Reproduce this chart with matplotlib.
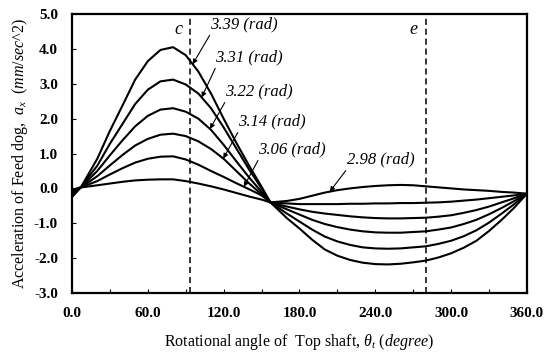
import matplotlib.pyplot as plt
import numpy as np

plt.rcParams['font.family'] = 'Liberation Serif'
plt.rcParams['mathtext.fontset'] = 'custom'
plt.rcParams['mathtext.rm'] = 'Liberation Serif'
plt.rcParams['mathtext.it'] = 'Liberation Serif:italic'

# rotational angle of top shaft (degree)
theta = [0, 7, 10, 20, 30, 40, 50, 60, 70, 80, 90, 100, 110, 120, 130, 140, 150, 157,
         170, 180, 190, 200, 210, 220, 230, 240, 250, 260, 270, 280, 290, 300,
         310, 320, 330, 340, 350, 360]

# feed dog acceleration (mm/sec^2) for each parameter value (rad)
acc_339 = [-0.25, 0.03, 0.22, 0.85, 1.65, 2.38, 3.12, 3.65, 3.97, 4.05, 3.82, 3.35, 2.72,
           2.00, 1.31, 0.66, 0.05, -0.40,
           -0.85, -1.15, -1.47, -1.75, -1.93, -2.05, -2.13, -2.17, -2.18, -2.16, -2.12,
           -2.07, -1.98, -1.86, -1.70, -1.50, -1.22, -0.90, -0.55, -0.15]
acc_331 = [-0.20, 0.03, 0.18, 0.65, 1.28, 1.85, 2.42, 2.83, 3.07, 3.12, 2.98, 2.72, 2.30,
           1.75, 1.15, 0.55, 0.00, -0.40,
           -0.72, -0.95, -1.18, -1.38, -1.52, -1.62, -1.69, -1.72, -1.73, -1.72, -1.69,
           -1.66, -1.59, -1.50, -1.37, -1.20, -0.98, -0.72, -0.45, -0.15]
acc_322 = [-0.16, 0.03, 0.14, 0.50, 0.95, 1.38, 1.78, 2.08, 2.26, 2.30, 2.20, 2.00, 1.68,
           1.25, 0.78, 0.32, -0.10, -0.40,
           -0.60, -0.75, -0.90, -1.02, -1.11, -1.18, -1.23, -1.26, -1.27, -1.27, -1.25,
           -1.23, -1.18, -1.12, -1.02, -0.90, -0.74, -0.56, -0.36, -0.15]
acc_314 = [-0.12, 0.03, 0.10, 0.35, 0.66, 0.96, 1.23, 1.42, 1.54, 1.57, 1.50, 1.35, 1.13,
           0.85, 0.50, 0.15, -0.17, -0.40,
           -0.52, -0.60, -0.67, -0.72, -0.76, -0.80, -0.83, -0.85, -0.86, -0.86, -0.85,
           -0.84, -0.81, -0.77, -0.70, -0.62, -0.52, -0.40, -0.28, -0.15]
acc_306 = [-0.08, 0.03, 0.07, 0.21, 0.40, 0.58, 0.74, 0.85, 0.91, 0.92, 0.83, 0.68, 0.50,
           0.33, 0.15, -0.02, -0.20, -0.40,
           -0.43, -0.45, -0.45, -0.45, -0.45, -0.44, -0.44, -0.43, -0.43, -0.42, -0.42,
           -0.41, -0.40, -0.38, -0.35, -0.32, -0.28, -0.24, -0.20, -0.15]
acc_298 = [-0.04, 0.03, 0.04, 0.09, 0.14, 0.19, 0.23, 0.25, 0.26, 0.26, 0.21, 0.14, 0.06,
           -0.03, -0.13, -0.23, -0.32, -0.40,
           -0.36, -0.30, -0.21, -0.12, -0.05, 0.00, 0.04, 0.07, 0.09, 0.10, 0.09,
           0.06, 0.03, 0.00, -0.03, -0.05, -0.07, -0.10, -0.12, -0.15]

curves = [acc_339, acc_331, acc_322, acc_314, acc_306, acc_298]
labels = ['3.39', '3.31', '3.22', '3.14', '3.06', '2.98']
# angle where each label's arrow meets its curve, and where the label sits
arrow_at = [95.5, 102.6, 109.2, 119.7, 136.0, 204.0]
text_at = [(109.2, 4.70), (113.1, 3.75), (121.0, 2.77), (131.3, 1.91),
           (147.2, 1.11), (217.6, 0.82)]

fig = plt.figure(figsize=(5.55, 3.6), dpi=100)
ax = fig.add_axes([0.1297, 0.186, 0.8198, 0.775])

for acc in curves:
    ax.plot(theta, acc, color='k', lw=1.5)

for lab, a, (tx, ty), acc in zip(labels, arrow_at, text_at, curves):
    ay = np.interp(a, theta, acc)
    ax.annotate(lab + ' (rad)', xy=(a, ay), xytext=(tx, ty),
                fontsize=12, fontstyle='italic', ha='left', va='center',
                arrowprops=dict(arrowstyle='-|>', color='k', lw=0.8,
                                mutation_scale=7, shrinkA=0, shrinkB=0,
                                relpos=(0.04, 0.15)))

# phase markers
for xv, name in [(93.4, 'c'), (280.0, 'e')]:
    ax.axvline(xv, color='k', lw=1.1, ls=(0, (4, 2.5)))
    ax.text(xv - 9.5, 4.55, name, fontsize=13, fontstyle='italic',
            ha='center', va='center')

ax.set_xlim(0, 360)
ax.set_ylim(-3, 5)
ax.set_xticks(np.arange(0, 361, 60))
ax.set_xticks(np.arange(0, 361, 30), minor=True)
ax.set_yticks(np.arange(-3, 5.1, 1))
ax.set_xticklabels(['%.1f' % v for v in np.arange(0, 361, 60)], fontweight='bold', fontsize=11)
ax.set_yticklabels(['%.1f' % v for v in np.arange(-3, 5.1, 1)], fontweight='bold', fontsize=11)
ax.tick_params(direction='in', length=3, width=0.8, pad=10, which='both')
ax.tick_params(axis='y', pad=10)
for sp in ax.spines.values():
    sp.set_linewidth(1.6)

ax.set_xlabel(r'Rotational angle of  Top shaft, $\theta_t$ $\mathit{(degree)}$', fontsize=11.5, labelpad=9)
ax.set_ylabel(r'Acceleration of Feed dog,  $a_x$  $\mathit{(mm/sec}$^$\mathit{2)}$', fontsize=11.5, labelpad=3)

fig.savefig('out.png', dpi=100)
